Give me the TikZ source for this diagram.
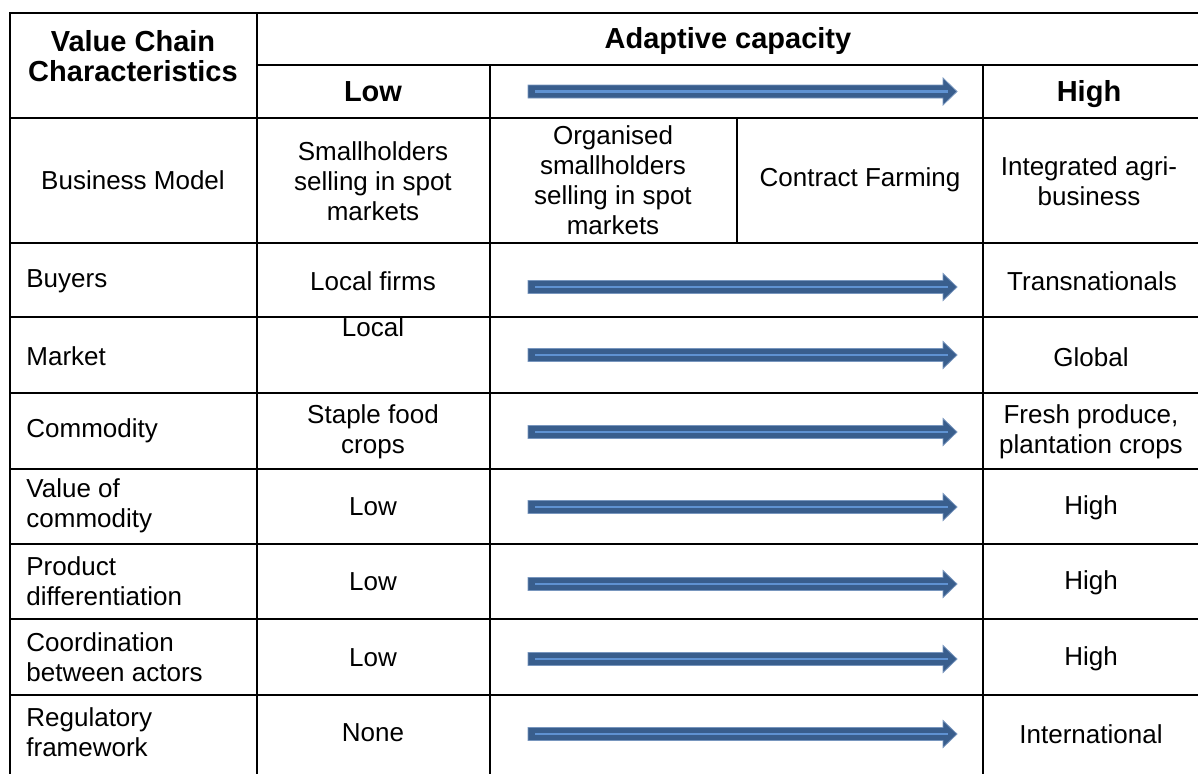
\documentclass[tikz,border=0pt]{standalone}
\usepackage{fontspec}
\setmainfont{Liberation Sans}
\definecolor{arrowblue}{RGB}{57,94,141}
\definecolor{arrowedge}{RGB}{120,150,190}
\definecolor{arrowline}{RGB}{95,146,210}
\tikzset{
  cell/.style={font=\fontsize{13}{15}\selectfont, align=center, inner sep=0pt},
  lcell/.style={cell, align=left, anchor=west},
  head/.style={font=\fontsize{14.5}{15}\selectfont\bfseries, align=center, inner sep=0pt},
  grid/.style={line width=1pt, black},
  blockarrow/.style={fill=arrowblue, draw=arrowedge, line width=0.4pt},
  stripe/.style={draw=arrowline, line width=1.1pt}
}

\begin{document}
\begin{tikzpicture}[x=0.5pt,y=-0.5pt]
			\useasboundingbox (0,0) rectangle (1198,773);
			% table lines
			\draw[grid] (10,13) rectangle (1203,778);
			\draw[grid] (257,13) -- (257,778) (490,65) -- (490,778) (983,65) -- (983,778);
			\draw[grid] (737,118) -- (737,243);
			\draw[grid] (257,65) -- (1203,65);
			\foreach \yy in {118,243,317,393,469,544,619,695}
				\draw[grid] (10,\yy) -- (1203,\yy);
			% block arrows
			\foreach \yy in {91.5,287,355,432,507,584,659,734} {
				\filldraw[blockarrow] (528,\yy-6.5) -- (943,\yy-6.5) -- (943,\yy-13.5) -- (957,\yy)
					-- (943,\yy+13.5) -- (943,\yy+6.5) -- (528,\yy+6.5) -- cycle;
				\draw[stripe] (535,\yy) -- (948,\yy);
			}
			% header
			\node[head] (vcc) at (133,56) {Value Chain\\Characteristics};
			\node[head] (adapt) at (728,41) {Adaptive capacity};
			\node[head] (low) at (373,92) {Low};
			\node[head] (high) at (1089,94) {High};
			% business model
			\node[cell] (bmodel) at (133,180) {Business Model};
			\node[cell] (spot) at (373,181) {Smallholders\\selling in spot\\markets};
			\node[cell] (organised) at (613,180) {Organised\\smallholders\\selling in spot\\markets};
			\node[cell] (contract) at (860,180) {Contract Farming};
			\node[cell] (integrated) at (1089,181) {Integrated agri-\\business};
			% rows
			\node[lcell] (buyers) at (26,281) {Buyers};
			\node[cell] (buyerslow) at (373,281) {Local firms};
			\node[cell] (buyershigh) at (1092,281) {Transnationals};
			\node[lcell] (market) at (26,356) {Market};
			\node[cell] (marketlow) at (373,327) {Local};
			\node[cell] (markethigh) at (1091,357) {Global};
			\node[lcell] (commodity) at (26,431) {Commodity};
			\node[cell] (commoditylow) at (373,432) {Staple food\\crops};
			\node[cell] (commodityhigh) at (1091,432) {Fresh produce,\\plantation crops};
			\node[lcell] (value) at (26,506) {Value of\\commodity};
			\node[cell] (valuelow) at (373,507) {Low};
			\node[cell] (valuehigh) at (1091,508) {High};
			\node[lcell] (product) at (26,581) {Product\\differentiation};
			\node[cell] (productlow) at (373,582) {Low};
			\node[cell] (producthigh) at (1091,583) {High};
			\node[lcell] (coord) at (26,657) {Coordination\\between actors};
			\node[cell] (coordlow) at (373,658) {Low};
			\node[cell] (coordhigh) at (1091,659) {High};
			\node[lcell] (regul) at (26,732) {Regulatory\\framework};
			\node[cell] (regullow) at (373,733) {None};
			\node[cell] (regulhigh) at (1091,734) {International};
		\end{tikzpicture}
\end{document}
